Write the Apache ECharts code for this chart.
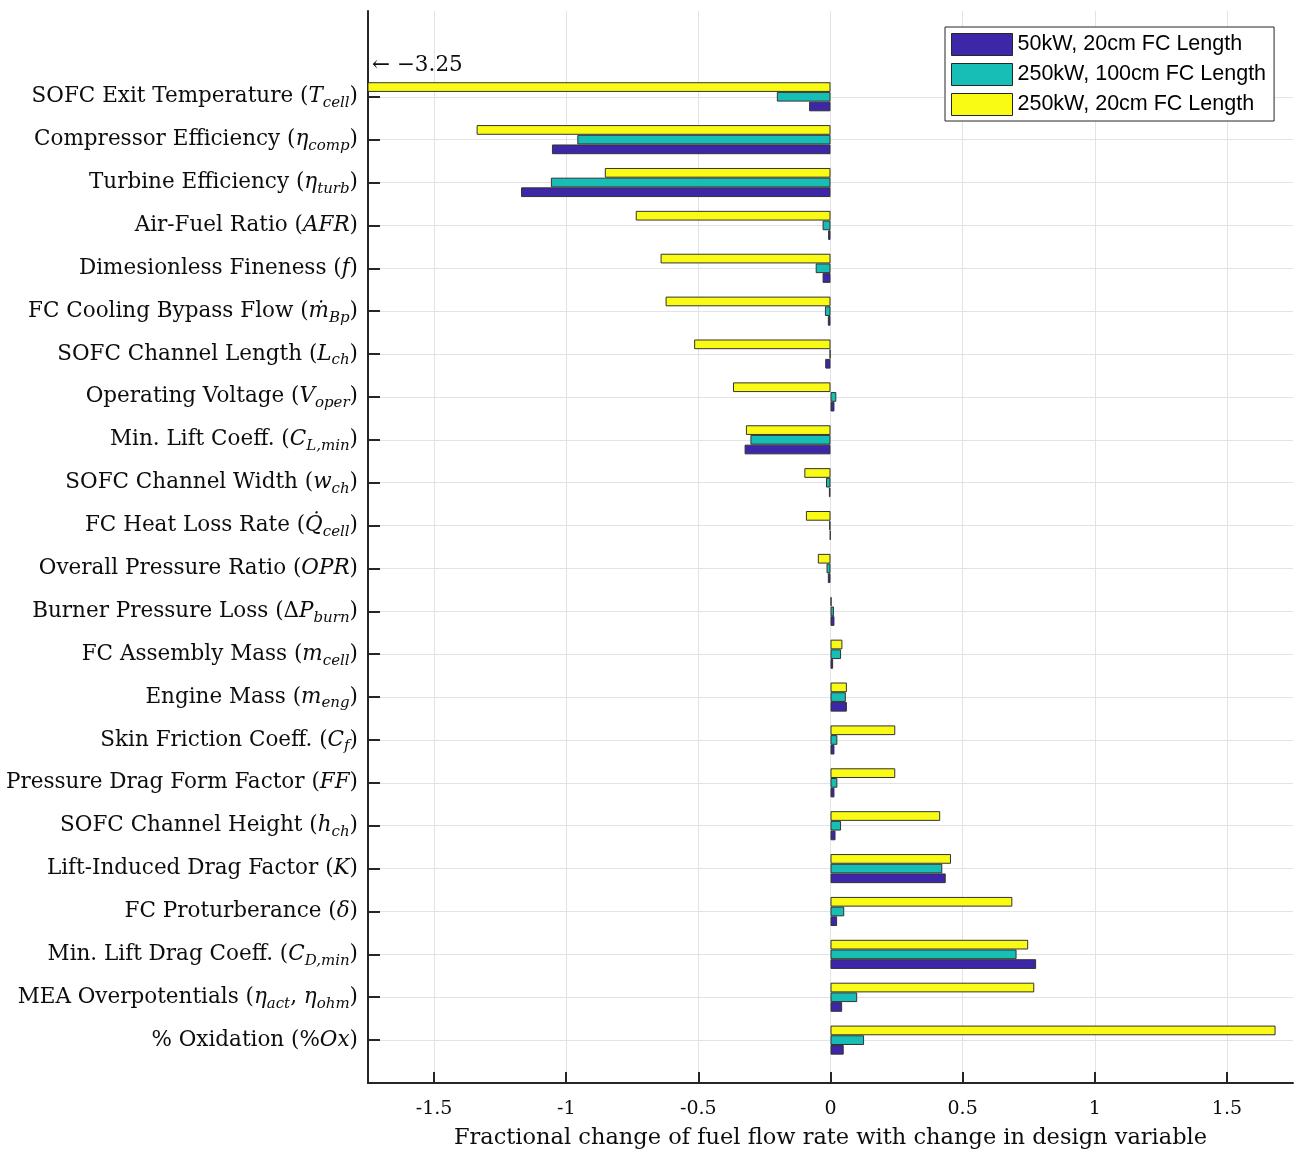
<!DOCTYPE html>
<html>
<head>
<meta charset="utf-8">
<title>Fuel flow sensitivity</title>
<script src="https://cdn.jsdelivr.net/npm/echarts@6/dist/echarts.min.js"></script>
<style>
  html, body { margin: 0; padding: 0; background: #ffffff; }
  #chart { width: 1304px; height: 1155px; }
</style>
</head>
<body>
<div id="chart"></div>
<script>
// Design variables, top to bottom. {r|..} roman text, {i|..} math italic, {s|..} subscript.
const categories = [
  '{r|SOFC Exit Temperature (}{i|T}{s|cell}{r|)}',
  '{r|Compressor Efficiency (}{i|η}{s|comp}{r|)}',
  '{r|Turbine Efficiency (}{i|η}{s|turb}{r|)}',
  '{r|Air-Fuel Ratio (}{i|AFR}{r|)}',
  '{r|Dimesionless Fineness (}{i|f}{r|)}',
  '{r|FC Cooling Bypass Flow (}{i|ṁ}{s|Bp}{r|)}',
  '{r|SOFC Channel Length (}{i|L}{s|ch}{r|)}',
  '{r|Operating Voltage (}{i|V}{s|oper}{r|)}',
  '{r|Min. Lift Coeff. (}{i|C}{s|L,min}{r|)}',
  '{r|SOFC Channel Width (}{i|w}{s|ch}{r|)}',
  '{r|FC Heat Loss Rate (}{i|Q\u0307}{s|cell}{r|)}',
  '{r|Overall Pressure Ratio (}{i|OPR}{r|)}',
  '{r|Burner Pressure Loss (Δ}{i|P}{s|burn}{r|)}',
  '{r|FC Assembly Mass (}{i|m}{s|cell}{r|)}',
  '{r|Engine Mass (}{i|m}{s|eng}{r|)}',
  '{r|Skin Friction Coeff. (}{i|C}{s|f}{r|)}',
  '{r|Pressure Drag Form Factor (}{i|FF}{r|)}',
  '{r|SOFC Channel Height (}{i|h}{s|ch}{r|)}',
  '{r|Lift-Induced Drag Factor (}{i|K}{r|)}',
  '{r|FC Proturberance (}{i|δ}{r|)}',
  '{r|Min. Lift Drag Coeff. (}{i|C}{s|D,min}{r|)}',
  '{r|MEA Overpotentials (}{i|η}{s|act}{r|, }{i|η}{s|ohm}{r|)}',
  '{r|% Oxidation (%}{i|Ox}{r|)}'
];

// Fractional change of fuel flow rate, one value per design variable
const fc50kW20cm = [
  -0.081, -1.054, -1.171, -0.009, -0.030, -0.010, -0.020, 0.015, -0.325, -0.006, -0.002, -0.010,
  0.015, 0.010, 0.062, 0.015, 0.015, 0.019, 0.436, 0.025, 0.778, 0.044, 0.050
];
const fc250kW100cm = [
  -0.203, -0.958, -1.058, -0.030, -0.056, -0.021, -0.003, 0.022, -0.303, -0.017, -0.005, -0.015,
  0.013, 0.040, 0.058, 0.026, 0.026, 0.040, 0.423, 0.052, 0.704, 0.101, 0.127
];
const fc250kW20cm = [
  -3.25, -1.339, -0.854, -0.737, -0.643, -0.624, -0.516, -0.369, -0.320, -0.099, -0.093, -0.048,
  0.004, 0.045, 0.062, 0.245, 0.245, 0.415, 0.456, 0.688, 0.748, 0.771, 1.684
];

const seriesNames = ['50kW, 20cm FC Length', '250kW, 100cm FC Length', '250kW, 20cm FC Length'];
const xTicks = [-1.5, -1, -0.5, 0, 0.5, 1, 1.5];
const X_MIN = -1.75;
const X_MAX = 1.75;

// Empty slots above and below the variables give the axis its margins
const PAD_TOP = 2;
const axisCats = [' ', '  '].concat(categories, ['   ']);
const pad = arr => ['-', '-'].concat(arr, ['-']);
const isCat = (idx, val) => String(val).trim() !== '';

const SERIF = 'DejaVu Serif';
const INK = '#262626';
const TXT = '#0d0d0d';
const fmtMinus = v => String(v).replace('-', '\u2212');

// Values that run past the left limit get an arrow note with their true value
const offscale = fc250kW20cm
  .map((v, i) => (v < X_MIN ? { coord: [X_MIN, i + PAD_TOP], value: v } : null))
  .filter(Boolean);

const barCommon = {
  type: 'bar',
  barWidth: 9.7,
  barGap: '0%',
  clip: true,
  silent: true,
  emphasis: { disabled: true }
};

const chart = echarts.init(document.getElementById('chart'), null, { renderer: 'canvas' });
chart.setOption({
  animation: false,
  backgroundColor: '#ffffff',
  grid: { left: 368, right: 11, top: 8, bottom: 72 },
  legend: {
    data: seriesNames,
    orient: 'vertical',
    left: 945,
    top: 27,
    padding: [6, 8, 5, 6],
    itemGap: 7,
    itemWidth: 61,
    itemHeight: 22,
    icon: 'rect',
    borderColor: INK,
    borderWidth: 1,
    borderRadius: 0,
    backgroundColor: '#ffffff',
    selectedMode: false,
    itemStyle: { borderColor: INK, borderWidth: 1 },
    textStyle: { fontFamily: 'Liberation Sans', fontSize: 21.5, color: '#000000' }
  },
  xAxis: {
    type: 'value',
    min: X_MIN,
    max: X_MAX,
    splitNumber: 7,
    name: 'Fractional change of fuel flow rate with change in design variable',
    nameLocation: 'middle',
    nameGap: 44,
    nameTextStyle: { fontFamily: SERIF, fontSize: 22.5, color: TXT },
    axisLine: { show: true, lineStyle: { color: INK, width: 2 } },
    axisTick: { show: true, inside: true, length: 11, customValues: xTicks, lineStyle: { color: INK, width: 2 } },
    axisLabel: { customValues: xTicks, margin: 17, fontFamily: SERIF, fontSize: 19, color: TXT },
    splitLine: { show: true, lineStyle: { color: '#e3e3e3', width: 1 } }
  },
  yAxis: {
    type: 'category',
    data: axisCats,
    inverse: true,
    boundaryGap: false,
    axisLine: { show: true, onZero: false, lineStyle: { color: INK, width: 2 } },
    axisTick: { show: true, inside: true, length: 12, interval: isCat, lineStyle: { color: INK, width: 2 } },
    splitLine: { show: true, interval: isCat, lineStyle: { color: '#e3e3e3', width: 1 } },
    axisLabel: {
      interval: 0,
      margin: 10,
      color: TXT,
      fontFamily: SERIF,
      fontSize: 21.5,
      rich: {
        r: { fontFamily: SERIF, fontSize: 21.5, lineHeight: 28, color: TXT },
        i: { fontFamily: SERIF, fontSize: 21.5, fontStyle: 'italic', lineHeight: 28, color: TXT },
        s: { fontFamily: SERIF, fontSize: 15, fontStyle: 'italic', lineHeight: 17, verticalAlign: 'bottom', color: TXT }
      }
    }
  },
  series: [
    Object.assign({}, barCommon, {
      name: seriesNames[2],
      data: pad(fc250kW20cm),
      itemStyle: { color: '#F9FB15', borderColor: '#333333', borderWidth: 1 },
      markPoint: {
        silent: true,
        symbol: 'circle',
        symbolSize: 0,
        label: {
          show: true,
          position: 'right',
          distance: 4,
          offset: [0, -22],
          fontFamily: SERIF,
          fontSize: 21.5,
          color: TXT,
          formatter: p => '\u2190 ' + fmtMinus(p.value)
        },
        data: offscale
      }
    }),
    Object.assign({}, barCommon, {
      name: seriesNames[1],
      data: pad(fc250kW100cm),
      itemStyle: { color: '#17BEB5', borderColor: '#333333', borderWidth: 1 }
    }),
    Object.assign({}, barCommon, {
      name: seriesNames[0],
      data: pad(fc50kW20cm),
      itemStyle: { color: '#3E26A8', borderColor: '#333333', borderWidth: 1 }
    })
  ]
});
</script>
</body>
</html>
